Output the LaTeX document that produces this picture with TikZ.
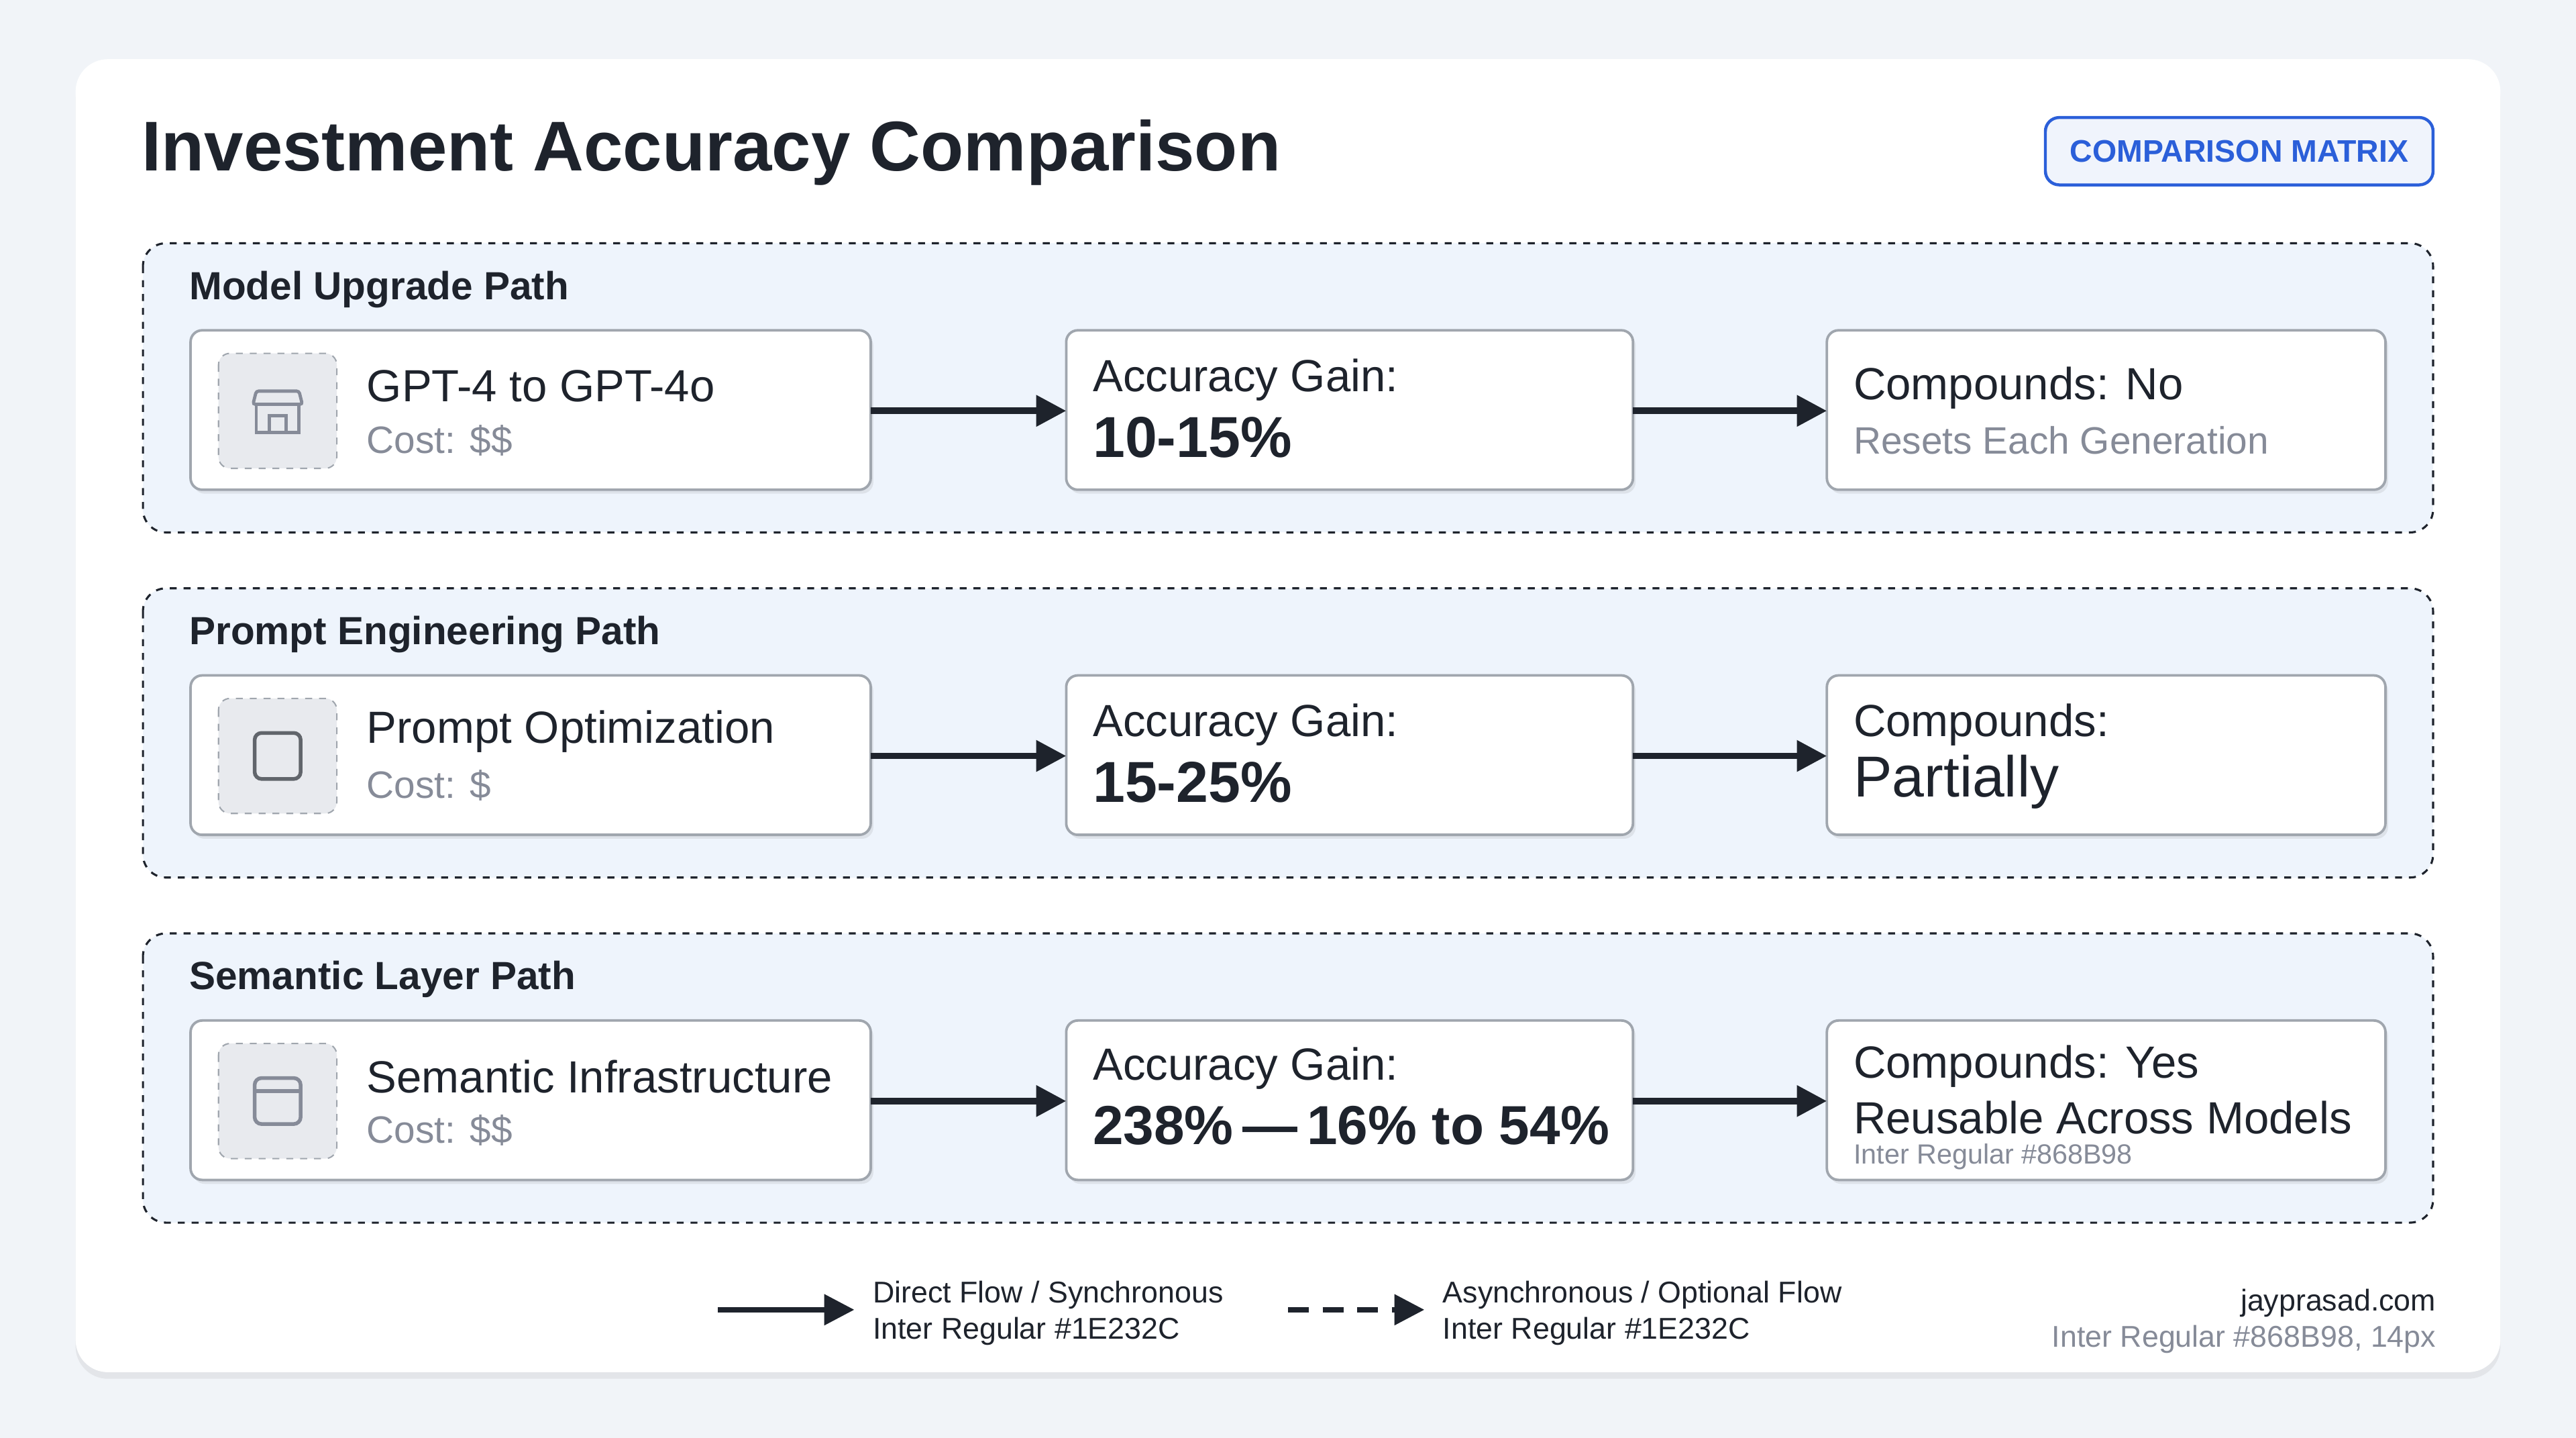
\documentclass[tikz,border=0pt]{standalone}
\usepackage{fontspec}
\setmainfont{Liberation Sans}
\usetikzlibrary{positioning, arrows.meta, shadows}
\definecolor{ink}{HTML}{1E232C}
\definecolor{mute}{HTML}{868B98}
\definecolor{pagebg}{HTML}{F1F4F8}
\definecolor{lanebg}{HTML}{EEF4FC}
\definecolor{edge}{HTML}{A0A6AE}
\definecolor{badge}{HTML}{2B5FD9}
\definecolor{iconbg}{HTML}{E8EAEE}
\newcommand{\fs}[1]{\fontsize{#1}{#1}\selectfont}
\tikzset{
  lane/.style={draw=ink, dashed, line width=0.9pt, fill=lanebg, rounded corners=10pt},
  card/.style={draw=edge, line width=1.1pt, fill=white, rounded corners=5pt,
    drop shadow={opacity=0.15, shadow xshift=0.4mm, shadow yshift=-0.6mm}},
  icon/.style={draw=edge, dashed, line width=0.6pt, fill=iconbg, rounded corners=5pt},
  flow/.style={-{Triangle[length=13pt,width=13pt]}, line width=2.8pt, ink},
  lanelabel/.style={anchor=west, font=\fs{17pt}\bfseries, text=ink},
  head/.style={anchor=west, font=\fs{19.5pt}, text=ink, inner sep=0pt},
  sub/.style={anchor=west, font=\fs{16.5pt}, text=mute, inner sep=0pt},
  big/.style={anchor=west, font=\fs{25pt}\bfseries, text=ink, inner sep=0pt},
}
\begin{document}
\begin{tikzpicture}[x=0.25mm, y=-0.25mm]
\fill[pagebg] (0,0) rectangle (1568,875);
\useasboundingbox (0,0) rectangle (1568,875);
\fill[white, rounded corners=14pt, drop shadow={opacity=0.12, shadow xshift=0mm, shadow yshift=-1mm}] (46,36) rectangle (1522,835);
\node[anchor=west, font=\fs{30.5pt}\bfseries, text=ink, inner sep=0pt] (title) at (86,93) {Investment Accuracy Comparison};
\node[draw=badge, line width=1.3pt, fill=badge!7, rounded corners=6pt, minimum width=236*0.25mm, minimum height=41*0.25mm, font=\fs{13.5pt}\bfseries, text=badge] (matrix) at (1363,92) {COMPARISON MATRIX};
% three lanes
\foreach \y/\name in {148/Model Upgrade Path, 358/Prompt Engineering Path, 568/Semantic Layer Path} {
  \draw[lane] (87,\y) rectangle (1481,\y+176);
  \node[lanelabel, inner sep=0pt] at (115,\y+28) {\name};
  \draw[card] (116,\y+53) rectangle (530,\y+150);
  \draw[card] (649,\y+53) rectangle (994,\y+150);
  \draw[card] (1112,\y+53) rectangle (1452,\y+150);
  \draw[icon] (133,\y+67) rectangle (205,\y+137);
}
% anchors for arrows
\foreach \i/\y in {1/250, 2/460, 3/670} {
  \coordinate (a\i) at (530,\y); \coordinate (b\i) at (649,\y);
  \coordinate (c\i) at (994,\y); \coordinate (d\i) at (1112,\y);
  \draw[flow] (a\i) -- (b\i);
  \draw[flow] (c\i) -- (d\i);
}
% icons
\draw[mute, line width=1.4pt, rounded corners=1pt] (156,238) -- (182,238) -- (184,246) -- (154,246) -- cycle;
\draw[mute, line width=1.4pt] (156,246) -- (156,263) -- (182,263) -- (182,246) (164,263) -- (164,253) -- (174,253) -- (174,263);
\draw[ink!70, line width=1.6pt, rounded corners=3pt] (155,446) rectangle (183,474);
\draw[mute, line width=1.6pt, rounded corners=3pt] (155,656) rectangle (183,684);
\draw[mute, line width=1.6pt] (155,664) -- (183,664);
% row 1
\node[head] (m1) at (223,235) {GPT-4 to GPT-4o};
\node[sub] (m1c) at (223,268) {Cost: \$\$};
\node[head] (g1) at (665,231) {Accuracy Gain:};
\node[big] (g1v) at (665,266) {10-15\%};
\node[head] (r1) at (1128,236) {Compounds: No};
\node[sub] (r1s) at (1128,268) {Resets Each Generation};
% row 2
\node[head] (m2) at (223,445) {Prompt Optimization};
\node[sub] (m2c) at (223,478) {Cost: \$};
\node[head] (g2) at (665,441) {Accuracy Gain:};
\node[big] (g2v) at (665,476) {15-25\%};
\node[head] (r2) at (1128,441) {Compounds:};
\node[font=\fs{25pt}, text=ink, anchor=west, inner sep=0pt] (r2v) at (1128,476) {Partially};
% row 3
\node[head] (m3) at (223,655) {Semantic Infrastructure};
\node[sub] (m3c) at (223,688) {Cost: \$\$};
\node[head] (g3) at (665,650) {Accuracy Gain:};
\node[big, font=\fs{23.8pt}\bfseries] (g3v) at (665,685) {238\%\,—\,16\% to 54\%};
\node[head] (r3) at (1128,649) {Compounds: Yes};
\node[head] (r3s) at (1128,680) {Reusable Across Models};
\node[sub, font=\fs{12pt}] (r3n) at (1128,704) {Inter Regular \#868B98};
% legend
\coordinate (l1) at (437,797); \coordinate (l2) at (520,797);
\draw[flow, line width=2.2pt] (l1) -- (l2);
\node[anchor=west, font=\fs{13pt}, text=ink, inner sep=0pt] at (531,788) {Direct Flow / Synchronous};
\node[anchor=west, font=\fs{13pt}, text=ink, inner sep=0pt] at (531,810) {Inter Regular \#1E232C};
\coordinate (l3) at (784,797); \coordinate (l4) at (867,797);
\draw[flow, line width=2.2pt, dash pattern=on 9pt off 6pt] (l3) -- (l4);
\node[anchor=west, font=\fs{13pt}, text=ink, inner sep=0pt] at (878,788) {Asynchronous / Optional Flow};
\node[anchor=west, font=\fs{13pt}, text=ink, inner sep=0pt] at (878,810) {Inter Regular \#1E232C};
\node[anchor=east, font=\fs{13pt}, text=ink, inner sep=0pt] at (1483,793) {jayprasad.com};
\node[anchor=east, font=\fs{13pt}, text=mute, inner sep=0pt] at (1483,815) {Inter Regular \#868B98, 14px};
\end{tikzpicture}
\end{document}
